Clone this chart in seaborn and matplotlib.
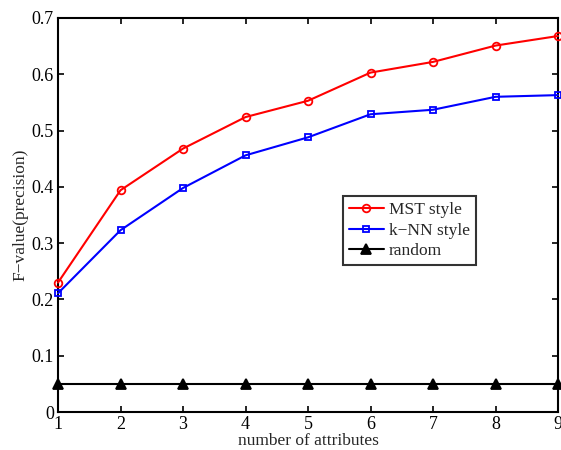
import matplotlib
matplotlib.use("Agg")
import matplotlib.pyplot as plt
import seaborn as sns
import pandas as pd

attrs = [1, 2, 3, 4, 5, 6, 7, 8, 9]
mst = [0.230, 0.394, 0.468, 0.524, 0.553, 0.603, 0.622, 0.651, 0.668]
knn = [0.211, 0.323, 0.398, 0.456, 0.488, 0.529, 0.537, 0.560, 0.563]
rnd = [0.05] * 9
series_names = ["MST style", "k\u2212NN style", "random"]

sns.set_theme(style="white")
plt.rcParams['font.family'] = ['Liberation Serif', 'DejaVu Serif']

df = pd.DataFrame({"x": attrs * 3,
                   "y": mst + knn + rnd,
                   "s": [series_names[0]] * 9 + [series_names[1]] * 9 + [series_names[2]] * 9})

fig = plt.figure(figsize=(5.61, 4.50), dpi=100)
ax = fig.add_axes([0.1034, 0.0844, 0.8913, 0.8756])

colors = {series_names[0]: "#ff0000", series_names[1]: "#0000ff", series_names[2]: "#000000"}
markers = {series_names[0]: "o", series_names[1]: "s", series_names[2]: "^"}
sizes = {series_names[0]: 5.5, series_names[1]: 5, series_names[2]: 6.5}
for name in series_names:
    sub = df[df.s == name]
    sns.lineplot(data=sub, x="x", y="y", ax=ax, color=colors[name], marker=markers[name],
                 markersize=sizes[name], markerfacecolor="none" if name != series_names[2] else "black",
                 markeredgecolor=colors[name], markeredgewidth=1.3, linewidth=1.5, label=name,
                 clip_on=False, zorder=3)

ax.set_xlim(1, 9)
ax.set_ylim(0, 0.7)
ax.set_xticks(attrs)
ax.set_yticks([0, 0.1, 0.2, 0.3, 0.4, 0.5, 0.6, 0.7])
ax.set_yticklabels(["0", "0.1", "0.2", "0.3", "0.4", "0.5", "0.6", "0.7"])
ax.set_xlabel("number of attributes", fontsize=12.5, labelpad=0)
ax.set_ylabel("F\u2212value(precision)", fontsize=12.5, labelpad=2)
ax.tick_params(direction="in", length=4, width=1.2, labelsize=13, top=True, right=True,
               bottom=True, left=True, colors="black", pad=3)
for sp in ax.spines.values():
    sp.set_color("black")
    sp.set_linewidth(1.5)

leg = ax.legend(loc="upper left", bbox_to_anchor=(0.57, 0.548), frameon=True, fontsize=12.5,
                handlelength=2.0, handletextpad=0.3, borderpad=0.35, labelspacing=0.25,
                fancybox=False, borderaxespad=0)
leg.get_frame().set_edgecolor("black")
leg.get_frame().set_linewidth(1.5)
leg.set_zorder(5)

fig.savefig("out.png", dpi=100)
